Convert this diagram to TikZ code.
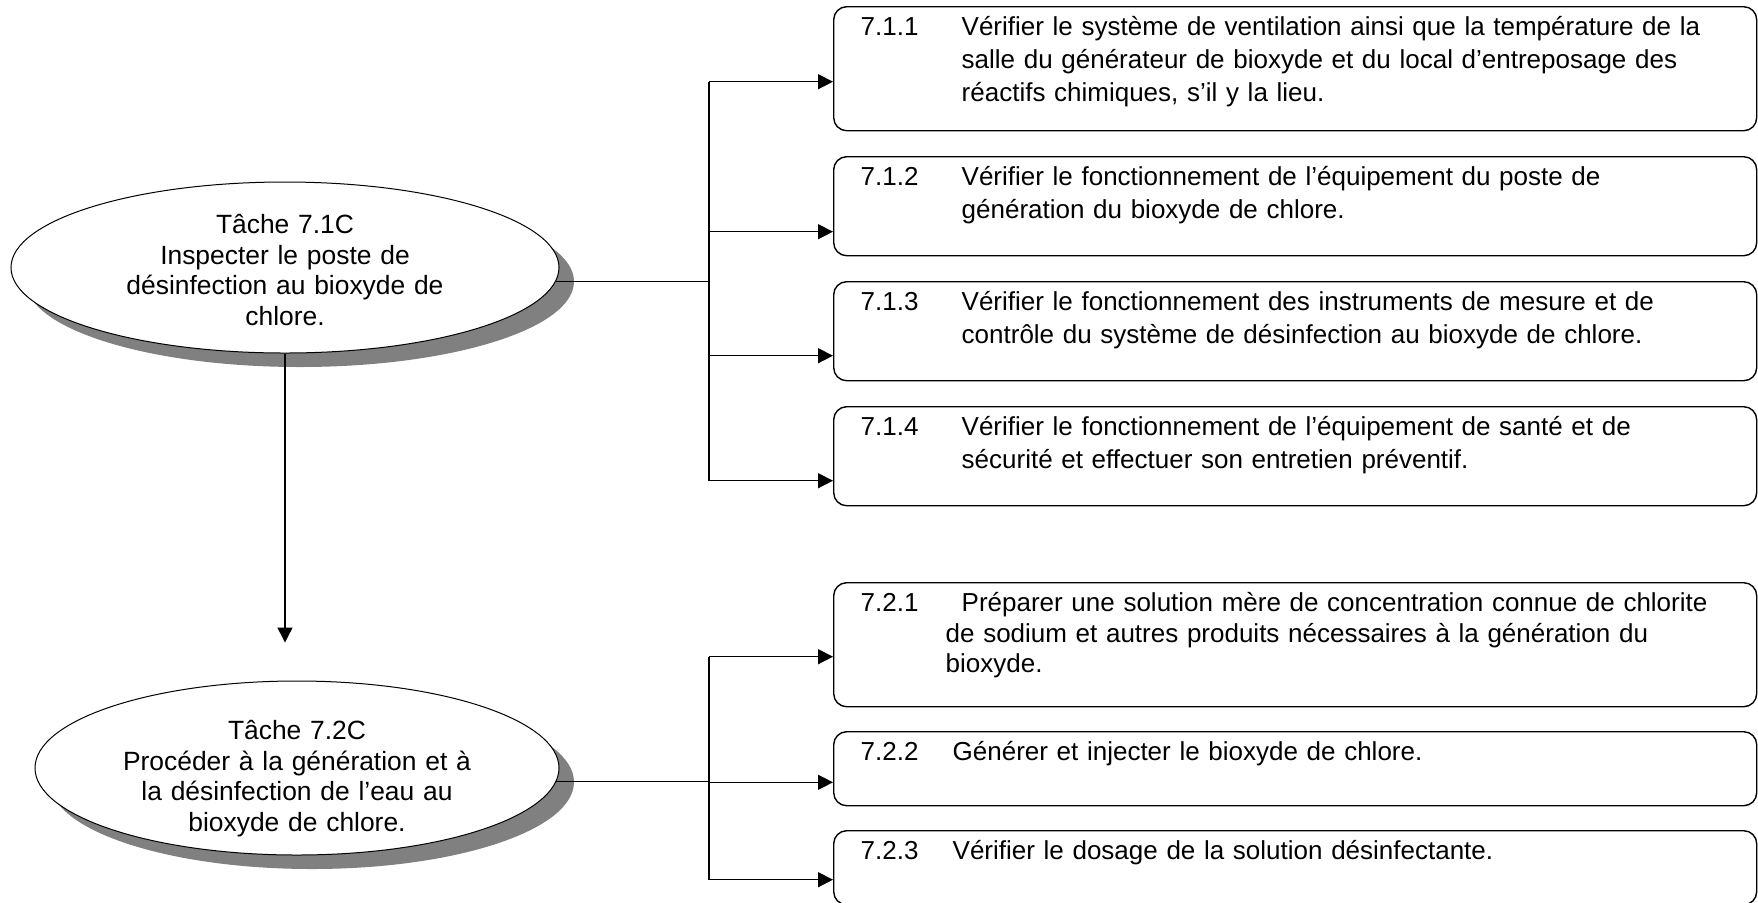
\documentclass[tikz,border=0pt]{standalone}
\usepackage{fontspec}
\setmainfont{Liberation Sans}
\usepackage{tikz}
\usetikzlibrary{arrows.meta,shapes.geometric,shadows}
\tikzset{
>={Triangle[length=7.5pt,width=7.5pt]}, % filled arrow heads
task/.style={ellipse, draw, line width=0.5pt, fill=white, inner sep=0pt, text width=180pt, align=center,
  font=\fontsize{13.2}{15.3}\selectfont, text height=12pt,
  drop shadow={shadow xshift=7.5pt, shadow yshift=-7pt, fill=gray, opacity=1}}, % the two tasks
subtask/.style={draw, rounded corners=6.5pt, line width=0.7pt, anchor=north west,
  inner xsep=13.5pt, inner ysep=0pt, text width=434.5pt, align=left, text height=14.5pt,
  font=\fontsize{13}{16.4}\selectfont}, % the boxes on the right
conn/.style={line width=0.5pt}, % line leaving a task
flow/.style={->, line width=0.7pt}, % arrows to the boxes
}

\begin{document}
\begin{tikzpicture}[x=0.5pt, y=-0.5pt]
	\useasboundingbox (0,0) rectangle (1758,902);
	\node[task, text depth=45.8pt, minimum width=274pt, minimum height=85.5pt] (71C) at (285,267.5) {Tâche 7.1C\\Inspecter le poste de\\désinfection au bioxyde de\\chlore.};
	\node[task, text depth=40.4pt, minimum width=262pt, minimum height=87pt] (72C) at (297,768) {Tâche 7.2C\\Procéder à la génération et à\\la désinfection de l’eau au\\bioxyde de chlore.};
	\node[subtask, text depth=47.5pt] (711) at (833,6) {\makebox[50.5pt][l]{7.1.1}Vérifier le système de ventilation ainsi que la température de la\\\hspace*{50.5pt}salle du générateur de bioxyde et du local d’entreposage des\\\hspace*{50.5pt}réactifs chimiques, s’il y la lieu.};
	\node[subtask, text depth=35pt] (712) at (833,156) {\makebox[50.5pt][l]{7.1.2}Vérifier le fonctionnement de l’équipement du poste de\\\hspace*{50.5pt}génération du bioxyde de chlore.};
	\node[subtask, text depth=35pt] (713) at (833,281) {\makebox[50.5pt][l]{7.1.3}Vérifier le fonctionnement des instruments de mesure et de\\\hspace*{50.5pt}contrôle du système de désinfection au bioxyde de chlore.};
	\node[subtask, text depth=35pt] (714) at (833,406) {\makebox[50.5pt][l]{7.1.4}Vérifier le fonctionnement de l’équipement de santé et de\\\hspace*{50.5pt}sécurité et effectuer son entretien préventif.};
	\node[subtask, text depth=47.5pt, font=\fontsize{13}{15.2}\selectfont] (721) at (833,582) {\makebox[50.5pt][l]{7.2.1}Préparer une solution mère de concentration connue de chlorite\\\hspace*{42.5pt}de sodium et autres produits nécessaires à la génération du\\\hspace*{42.5pt}bioxyde.};
	\node[subtask, text depth=22.5pt] (722) at (833,731) {\makebox[46pt][l]{7.2.2}Générer et injecter le bioxyde de chlore.};
	\node[subtask, text depth=22.5pt] (723) at (833,830) {\makebox[46pt][l]{7.2.3}Vérifier le dosage de la solution désinfectante.};
	\coordinate (bus) at (709,0);
	\draw[conn] (71C.-3) -- (71C.-3 -| bus);
	\draw[flow, shorten >=19pt] (71C.south) -- (71C.south |- 72C.north);
	\draw[line width=0.7pt] ([yshift=-6.5pt]711.west -| bus) -- ([yshift=-12.25pt]714.west -| bus);
	\foreach \b/\d in {711/6.5pt, 712/12.75pt, 713/12.25pt, 714/12.25pt}
		\draw[flow] ([yshift=-\d]\b.west -| bus) -- ([yshift=-\d]\b.west);
	\draw[conn] (72C.-3) -- (72C.-3 -| bus);
	\draw[line width=0.7pt] ([yshift=-6pt]721.west -| bus) -- ([yshift=-6pt]723.west -| bus);
	\foreach \b/\d in {721/6pt, 722/6.8pt, 723/6pt}
		\draw[flow] ([yshift=-\d]\b.west -| bus) -- ([yshift=-\d]\b.west);
\end{tikzpicture}
\end{document}
